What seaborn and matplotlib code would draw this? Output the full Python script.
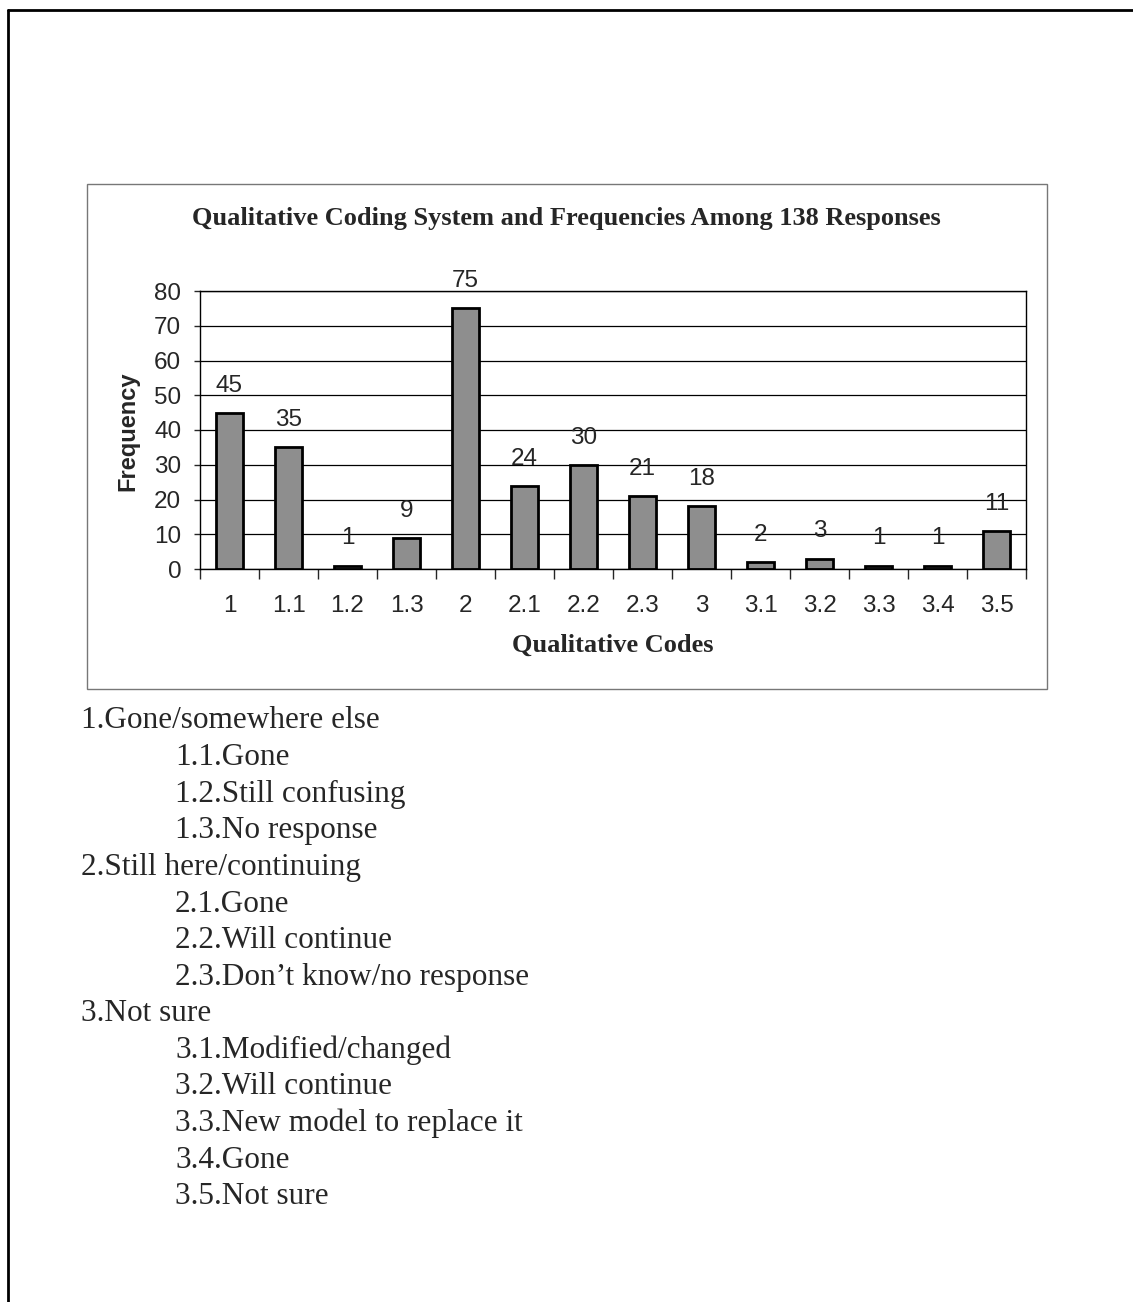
import numpy as np
import pandas as pd
import matplotlib.pyplot as plt
import seaborn as sns
from matplotlib.lines import Line2D
from matplotlib.patches import Rectangle

codes = ['1', '1.1', '1.2', '1.3', '2', '2.1', '2.2', '2.3',
         '3', '3.1', '3.2', '3.3', '3.4', '3.5']
freq = [45, 35, 1, 9, 75, 24, 30, 21, 18, 2, 3, 1, 1, 11]

key_labels = ['1.Gone/somewhere else', '1.1.Gone', '1.2.Still confusing', '1.3.No response',
              '2.Still here/continuing', '2.1.Gone', '2.2.Will continue', '2.3.Don\u2019t know/no response',
              '3.Not sure', '3.1.Modified/changed', '3.2.Will continue', '3.3.New model to replace it',
              '3.4.Gone', '3.5.Not sure']
key_level = [0, 1, 1, 1, 0, 1, 1, 1, 0, 1, 1, 1, 1, 1]

sns.set_style('white')
plt.rcParams['font.family'] = ['Liberation Sans', 'DejaVu Sans']

df = pd.DataFrame({'code': codes, 'freq': freq})

W, H = 1133, 1302
fig = plt.figure(figsize=(W / 100, H / 100), dpi=100)

# page border (left + top only)
fig.add_artist(Line2D([8 / W, 8 / W], [0, 1 - 10 / H], color='black', lw=2))
fig.add_artist(Line2D([8 / W, 1], [1 - 10 / H, 1 - 10 / H], color='black', lw=2))

# chart frame
fig.add_artist(Rectangle((87 / W, 1 - 689 / H), (1047 - 87) / W, (689 - 184) / H,
                         fill=False, edgecolor='#777777', lw=1))

ax = fig.add_axes([200 / W, 1 - 569 / H, (1026 - 200) / W, (569 - 291) / H])
sns.barplot(data=df, x='code', y='freq', color='#8e8e8e', saturation=1,
            width=0.45, edgecolor='black', linewidth=2, ax=ax)

ax.set_ylim(0, 80)
ax.set_xlim(-0.5, len(codes) - 0.5)
ax.set_yticks(range(0, 81, 10))
ax.yaxis.grid(True, color='black', lw=0.9)
ax.set_axisbelow(True)
for s in ax.spines.values():
    s.set_visible(True)
    s.set_color('black')
    s.set_linewidth(1)

ax.set_xticks(np.arange(-0.5, len(codes)), minor=True)
ax.tick_params(axis='x', which='major', length=0, pad=19, labelsize=17.5)
ax.tick_params(axis='x', which='minor', length=7, width=1, direction='out', bottom=True)
ax.tick_params(axis='y', length=4.5, width=1, direction='out', left=True, labelsize=17.5, pad=9)
ax.set_xlabel('')
ax.set_ylabel('')

for i, v in enumerate(freq):
    ax.annotate(str(v), (i, v), xytext=(0, 19.5), textcoords='offset points',
                ha='center', va='center', fontsize=17.5)

fig.text(566 / W, 1 - 218 / H, 'Qualitative Coding System and Frequencies Among 138 Responses',
         ha='center', va='center', fontsize=19, fontweight='bold', family='Liberation Serif')
fig.text(613 / W, 1 - 645 / H, 'Qualitative Codes', ha='center', va='center',
         fontsize=19, fontweight='bold', family='Liberation Serif')
fig.text(128 / W, 1 - 431 / H, 'Frequency', ha='center', va='center', rotation=90,
         fontsize=17, fontweight='bold')

y0, dy = 721, 36.6
for k, (lab, lev) in enumerate(zip(key_labels, key_level)):
    x = 81 if lev == 0 else 175
    fig.text(x / W, 1 - (y0 + k * dy) / H, lab, ha='left', va='center',
             fontsize=22.5, family='Liberation Serif')

fig.savefig('out.png', dpi=100, facecolor='white')
